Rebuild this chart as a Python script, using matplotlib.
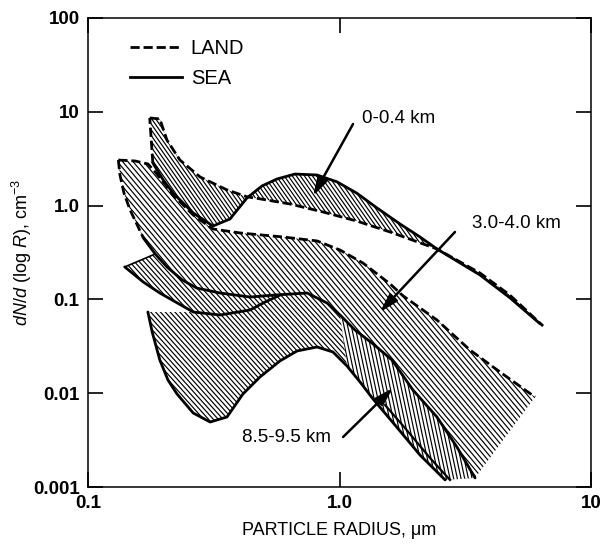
import numpy as np
import matplotlib
matplotlib.use("Agg")
import matplotlib.pyplot as plt
from matplotlib.patches import Polygon
from matplotlib.collections import LineCollection
from matplotlib.lines import Line2D
from matplotlib.ticker import NullLocator

plt.rcParams["font.family"] = ["Liberation Sans", "DejaVu Sans"]
plt.rcParams["mathtext.fontset"] = "custom"
plt.rcParams["mathtext.rm"] = "Liberation Sans"
plt.rcParams["mathtext.it"] = "Liberation Sans:italic"

# ---- size distributions (radius in um, dN/dlogR in cm^-3) ----
# 0-0.4 km
land_0_04_r = [0.176, 0.193, 0.206, 0.232, 0.279, 0.357, 0.429, 0.483, 0.636,
               0.860, 1.17, 1.59, 2.44, 3.62, 4.76, 6.45]
land_0_04_n = [8.6, 8.4, 5.0, 3.06, 2.02, 1.47, 1.24, 1.18, 1.04,
               0.855, 0.685, 0.523, 0.345, 0.191, 0.111, 0.052]
sea_0_04_r = [0.181, 0.199, 0.218, 0.262, 0.314, 0.367, 0.429, 0.492, 0.564,
              0.665, 0.814, 0.978, 1.17, 1.41, 1.74, 2.09, 2.44, 3.62, 4.76, 6.27]
sea_0_04_n = [2.85, 1.88, 1.36, 0.834, 0.606, 0.72, 1.21, 1.62, 1.92,
              2.17, 2.12, 1.79, 1.36, 0.943, 0.637, 0.463, 0.345, 0.182, 0.104, 0.055]

# 3.0-4.0 km
land_3_4_r = [0.132, 0.154, 0.173, 0.185, 0.199, 0.218, 0.262, 0.314, 0.402, 0.596,
              0.814, 1.005, 1.24, 1.59, 1.79, 2.44, 3.30, 4.35, 5.99]
land_3_4_n = [3.06, 2.99, 2.78, 2.28, 1.79, 1.30, 0.794, 0.563, 0.511, 0.463,
              0.420, 0.336, 0.244, 0.146, 0.109, 0.0603, 0.0289, 0.0168, 0.0091]
edge_3_4_r = [0.132, 0.134, 0.139, 0.147, 0.157, 0.166]
edge_3_4_n = [3.06, 2.12, 1.36, 0.898, 0.621, 0.452]
low_3_4_r = [0.166, 0.185, 0.206, 0.237, 0.271, 0.335, 0.441, 0.544, 0.743, 0.892,
             1.005, 1.152, 1.346, 1.617, 1.96, 2.44, 2.93, 3.46]
low_3_4_n = [0.452, 0.305, 0.222, 0.161, 0.132, 0.117, 0.106, 0.111, 0.117, 0.0916,
             0.0682, 0.0472, 0.0343, 0.0226, 0.0108, 0.00558, 0.00267, 0.00125]

# 8.5-9.5 km
mid_85_95_r = [0.140, 0.166, 0.193, 0.262, 0.335, 0.441, 0.506, 0.580]
mid_85_95_n = [0.222, 0.153, 0.117, 0.0734, 0.0682, 0.0771, 0.0938, 0.111]
sea_85_95_r = [0.173, 0.180, 0.193, 0.208, 0.226, 0.262, 0.306, 0.357, 0.413, 0.483,
               0.580, 0.678, 0.814, 0.942, 1.071, 1.206, 1.359, 1.662, 2.09, 2.63]
sea_85_95_n = [0.0734, 0.0449, 0.0226, 0.0138, 0.0098, 0.00615, 0.00493, 0.00558, 0.0098, 0.0149,
               0.0221, 0.0282, 0.0311, 0.0275, 0.0195, 0.0132, 0.00868, 0.00458, 0.00219, 0.00119]
land_85_95_r = [1.517, 1.821, 2.29, 2.75]
land_85_95_n = [0.00748, 0.00426, 0.00204, 0.00119]

# labels with their arrows: (text, text position, arrow tail, arrow head)
band_labels = ["0-0.4 km", "3.0-4.0 km", "8.5-9.5 km"]
label_pos = [(1.229, 8.38), (3.363, 0.637), (0.4095, 0.00341)]
arrow_tail = [(1.132, 7.41), (2.878, 0.523), (1.033, 0.00341)]
arrow_head = [(0.7845, 1.266), (1.449, 0.0734), (1.632, 0.01136)]

x_ticks = [0.1, 1.0, 10.0]
x_ticklabels = ["0.1", "1.0", "10"]
y_ticks = [0.001, 0.01, 0.1, 1.0, 10.0, 100.0]
y_ticklabels = ["0.001", "0.01", "0.1", "1.0", "10", "100"]

LAND_DASH = (0, (3.3, 1.4))

fig = plt.figure(figsize=(6.0, 5.45), dpi=100)
ax = fig.add_axes([88 / 600, 1 - 487 / 545, (591 - 88) / 600, (487 - 18) / 545])
ax.set_xscale("log")
ax.set_yscale("log")
ax.set_xlim(0.1, 10)
ax.set_ylim(0.001, 100)

AX_W = (591 - 88)
AX_H = (487 - 18)


def hatched_region(xs, ys, angle, spacing, z, lw=0.85):
    """White-filled polygon covered by parallel hatch lines at a given screen angle."""
    poly = Polygon(np.column_stack([xs, ys]), closed=True, facecolor="white",
                   edgecolor="none", zorder=z)
    ax.add_patch(poly)
    th = np.deg2rad(angle)
    d = np.array([np.cos(th), np.sin(th)])
    nrm = np.array([-d[1], d[0]])
    L = np.hypot(AX_W, AX_H)
    ctr = np.array([AX_W / 2, AX_H / 2])
    segs = []
    for c in np.arange(-L, L, spacing):
        p0 = ctr + c * nrm - L * d
        p1 = ctr + c * nrm + L * d
        segs.append([(p0[0] / AX_W, p0[1] / AX_H), (p1[0] / AX_W, p1[1] / AX_H)])
    lc = LineCollection(segs, colors="black", linewidths=lw,
                        transform=ax.transAxes, zorder=z + 0.1)
    lc.set_clip_path(poly)
    ax.add_collection(lc, autolim=False)


# 3.0-4.0 km band
b_x = land_3_4_r + low_3_4_r[::-1] + edge_3_4_r[::-1]
b_y = land_3_4_n + low_3_4_n[::-1] + edge_3_4_n[::-1]
hatched_region(b_x, b_y, -50, 4.0, 1)

# 8.5-9.5 km band
c_x = [mid_85_95_r[0]] + low_3_4_r[1:] + sea_85_95_r[::-1] + mid_85_95_r[3::-1]
c_y = [mid_85_95_n[0]] + low_3_4_n[1:] + sea_85_95_n[::-1] + mid_85_95_n[3::-1]
hatched_region(c_x, c_y, -48, 3.6, 2)

# overlap strip between the two upper-altitude bands
s_x = low_3_4_r[10:] + sea_85_95_r[:13:-1]
s_y = low_3_4_n[10:] + sea_85_95_n[:13:-1]
hatched_region(s_x, s_y, -78, 3.6, 3)

# 0-0.4 km band
a_x = land_0_04_r + sea_0_04_r[::-1]
a_y = land_0_04_n + sea_0_04_n[::-1]
hatched_region(a_x, a_y, -55, 3.3, 4)

LW = 2.0
kw_land = dict(color="black", lw=LW, ls=LAND_DASH, zorder=6, dash_capstyle="butt")
kw_sea = dict(color="black", lw=LW, ls="-", zorder=7, solid_capstyle="round")

ax.plot(land_0_04_r, land_0_04_n, **kw_land)
ax.plot([sea_0_04_r[0], land_0_04_r[0]], [sea_0_04_n[0], land_0_04_n[0]], **kw_land)
ax.plot(sea_0_04_r, sea_0_04_n, **kw_sea)

ax.plot(land_3_4_r, land_3_4_n, **kw_land)
ax.plot(edge_3_4_r, edge_3_4_n, **kw_land)
ax.plot(low_3_4_r, low_3_4_n, **kw_sea)

ax.plot(mid_85_95_r, mid_85_95_n, **kw_sea)
ax.plot([mid_85_95_r[0], low_3_4_r[1]], [mid_85_95_n[0], low_3_4_n[1]],
        color="black", lw=1.2, zorder=7)
ax.plot(sea_85_95_r, sea_85_95_n, **kw_sea)
ax.plot(land_85_95_r, land_85_95_n, color="black", lw=1.6, zorder=7)

# labels and arrows
for txt, pos, tail, head in zip(band_labels, label_pos, arrow_tail, arrow_head):
    ax.text(pos[0], pos[1], txt, fontsize=13.5, ha="left", va="center", zorder=10)
    ax.annotate("", xy=head, xytext=tail,
                arrowprops=dict(arrowstyle="-|>,head_length=0.55,head_width=0.16",
                                lw=1.8, color="black", shrinkA=0, shrinkB=0,
                                mutation_scale=20),
                zorder=10)

# legend
handles = [Line2D([], [], color="black", lw=LW, ls=LAND_DASH),
           Line2D([], [], color="black", lw=LW)]
ax.legend(handles, ["LAND", "SEA"], loc="upper left",
          bbox_to_anchor=((130 - 88) / AX_W, 1 - (39 - 18) / AX_H),
          frameon=False, fontsize=14.5, handlelength=2.6, handletextpad=0.42,
          labelspacing=0.55, borderpad=0, borderaxespad=0)

# axes styling
ax.set_xticks(x_ticks)
ax.set_xticklabels(x_ticklabels)
ax.set_yticks(y_ticks)
ax.set_yticklabels(y_ticklabels)
ax.xaxis.set_minor_locator(NullLocator())
ax.yaxis.set_minor_locator(NullLocator())
ax.tick_params(axis="both", which="major", direction="in", length=11, width=1.2,
               top=True, right=True, labelsize=13.5, pad=6)
for lab in ax.get_xticklabels() + ax.get_yticklabels():
    lab.set_fontweight("bold")
for sp in ax.spines.values():
    sp.set_linewidth(1.1)

ax.set_xlabel("PARTICLE RADIUS, \u03bcm", fontsize=13)
ax.xaxis.set_label_coords(0.5, -0.075)
ax.xaxis.label.set_va("top")
ax.set_ylabel(r"$dN/d$ (log $R$), cm$^{-3}$", fontsize=13)
ax.yaxis.set_label_coords(-0.108, 0.5)

fig.savefig("out.png", dpi=100)
